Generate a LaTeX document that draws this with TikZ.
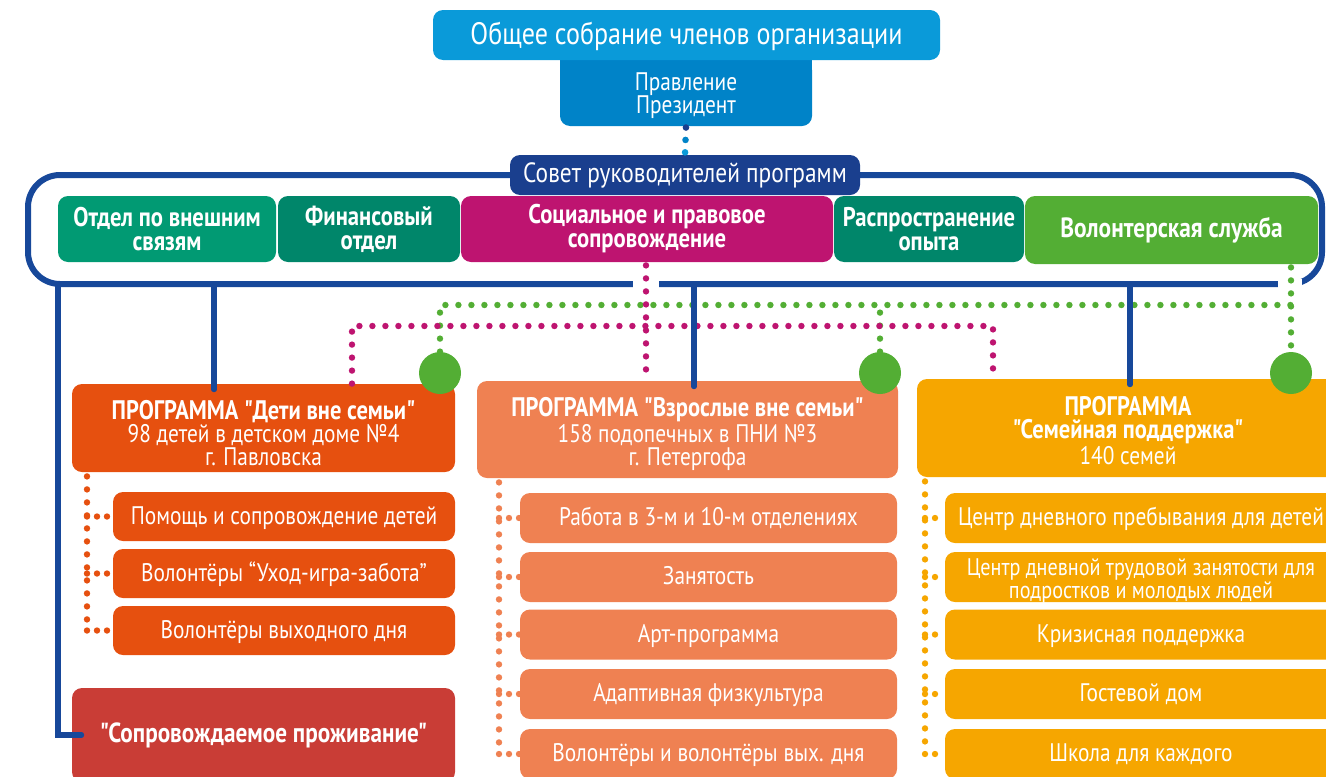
\documentclass[tikz,border=0pt]{standalone}
\usepackage{fontspec}
\setmainfont{PT Sans}[FakeStretch=0.84, Ligatures=TeXOff]
\usetikzlibrary{positioning, backgrounds}

\definecolor{cGen}{HTML}{0A9AD9}
\definecolor{cPrav}{HTML}{0083C8}
\definecolor{cSovet}{HTML}{1A3F8E}
\definecolor{cFrame}{HTML}{17489A}
\definecolor{cExt}{HTML}{019A73}
\definecolor{cFin}{HTML}{00866A}
\definecolor{cSoc}{HTML}{BE1470}
\definecolor{cVol}{HTML}{53AE34}
\definecolor{cP1}{HTML}{E6500F}
\definecolor{cP2}{HTML}{EF8152}
\definecolor{cP3}{HTML}{F6A600}
\definecolor{cHome}{HTML}{C93D36}

\begin{document}
\begin{tikzpicture}[x=0.5pt, y=-0.5pt,
  box/.style={rounded corners=5pt, inner sep=0pt, align=center, text=white},
  wh/.style 2 args={minimum width=#1*0.5pt, minimum height=#2*0.5pt},
  dept/.style={box, font=\bfseries\fontsize{13.5}{12}\selectfont},
  prog/.style={box, font=\fontsize{12.7}{11.5}\selectfont, text height=37.5pt, text depth=0pt},
  sub/.style={box, font=\fontsize{12.7}{11.5}\selectfont, text height=9.4pt, text depth=1.8pt},
  trunk/.style={draw=cFrame, line width=2.6pt, line cap=round},
  dots/.style={line width=3.2pt, line cap=round, dash pattern=on 0pt off 6.5pt},
  twig/.style={dots, dash pattern=on 0pt off 5pt},
  pdot/.style={circle, minimum size=3.3pt, inner sep=0pt},
  knob/.style={circle, fill=cVol, minimum size=21pt, inner sep=0pt}]
\useasboundingbox (0,0) rectangle (1326,776);

% council frame
\node[draw=cFrame, line width=3pt, rounded corners=16pt, wh={1294}{109}] (frame) at (675,229.5) {};
\node[box, fill=cSovet, font=\fontsize{13.9}{16}\selectfont, wh={350}{40}] (sovet) at (685,175) {Совет руководителей программ};
\node[dept, fill=cExt, wh={218}{66}] (ext) at (167,229) {Отдел по внешним\\связям};
\node[dept, fill=cFin, wh={182}{66}] (fin) at (369,229) {Финансовый\\отдел};
\node[dept, fill=cSoc, wh={372}{66}] (soc) at (647,229) {Социальное и правовое\\сопровождение};
\node[dept, fill=cFin, wh={190}{66}] (rasp) at (929,229) {Распространение\\опыта};
\node[dept, fill=cVol, font=\bfseries\fontsize{13.9}{12}\selectfont, wh={293}{68}] (vol) at (1171.5,230) {Волонтерская служба};

% top of the tree
\node[box, fill=cPrav, font=\fontsize{12.7}{11.5}\selectfont, text height=21.5pt, text depth=1pt, wh={252}{66}] (prav) at (686,93) {Правление\\Президент};
\begin{scope}[on background layer]
  \fill[cPrav] (prav.north west) rectangle ([yshift=-8pt]prav.north east);
\end{scope}
\node[box, fill=cGen, font=\fontsize{15.5}{18}\selectfont, text height=11pt, text depth=2pt, wh={507}{50}] (gen) at (686.5,35) {Общее собрание членов организации};
\path (prav.south) -- (sovet.north)
  node[pdot, fill=cSovet, pos=0.04] (pd1) {}
  node[pdot, fill=cPrav, pos=0.48] (pd2) {}
  node[pdot, fill=cGen, pos=0.92] (pd3) {};

% gaps in the frame
\fill[white] (633,279) rectangle (659,289);
\fill[white] (1278,279) rectangle (1302,289);

% programmes
\node[prog, fill=cP1, wh={383}{88}] (prog1) at (263.5,428) {\textbf{\fontsize{13.4}{11.5}\selectfont ПРОГРАММА "Дети вне семьи"}\\98 детей в детском доме №4\\г. Павловска};
\node[prog, fill=cP2, text height=35.5pt, wh={421}{97}] (prog2) at (687.5,429.5) {\textbf{\fontsize{13.4}{11.5}\selectfont ПРОГРАММА "Взрослые вне семьи"}\\158 подопечных в ПНИ №3\\г. Петергофа};
\node[prog, fill=cP3, text height=36pt, wh={422}{98}] (prog3) at (1128,428) {\textbf{\fontsize{13.4}{11.5}\selectfont ПРОГРАММА}\\\textbf{\fontsize{13.4}{11.5}\selectfont "Семейная поддержка"}\\140 семей};

% dotted links
\coordinate (gline) at (0,305);
\coordinate (mline) at (0,326);
\coordinate (m1) at (352,0);
\coordinate (m2) at (646,0);
\coordinate (m3) at (993,0);
\node[knob] (g1) at (440,373) {};
\node[knob] (g2) at (880,373) {};
\node[knob] (g3) at (1291,373) {};
\draw[dots, draw=cVol] (g1.north) -- (g1 |- gline) -- (g3 |- gline);
\draw[dots, draw=cVol] (g2.north) -- (g2 |- gline);
\draw[dots, draw=cVol] ([yshift=-1.5pt]vol.south -| g3) -- (g3.north);
\draw[dots, draw=cSoc] (prog1.north -| m1) -- (m1 |- mline) -- (m3 |- mline) -- (prog3.north -| m3);
\draw[dots, draw=cSoc] ([yshift=-1.5pt]soc.south -| m2) -- (prog2.north -| m2);

% lines from the council
\coordinate (d0) at (58,284);
\coordinate (d1) at (214,284);
\coordinate (d2) at (694,284);
\coordinate (d3) at (1130,284);
\draw[trunk] (d1) -- ([yshift=-3pt]d1 |- prog1.north);
\draw[trunk] (d2) -- ([yshift=-3pt]d2 |- prog2.north);
\draw[trunk] (d3) -- ([yshift=-3pt]d3 |- prog3.north);

% children
\node[sub, fill=cP1, wh={342}{49}] (a1) at (284,516.5) {Помощь и сопровождение детей};
\node[sub, fill=cP1, wh={342}{49}] (a2) at (284,573.5) {Волонтёры “Уход-игра-забота”};
\node[sub, fill=cP1, wh={342}{49}] (a3) at (284,630.5) {Волонтёры выходного дня};
\node[box, fill=cHome, font=\bfseries\fontsize{13.8}{12}\selectfont, wh={383}{94}] (home) at (263.5,735) {"Сопровождаемое проживание"};
\draw[trunk] (d0) |- ([xshift=5pt]home.west);

% adults
\node[sub, fill=cP2, wh={377}{50}] (b1) at (708.5,518) {Работа в 3-м и 10-м отделениях};
\node[sub, fill=cP2, wh={377}{50}] (b2) at (708.5,577) {Занятость};
\node[sub, fill=cP2, wh={377}{50}] (b3) at (708.5,634.5) {Арт-программа};
\node[sub, fill=cP2, wh={377}{50}] (b4) at (708.5,694) {Адаптивная физкультура};
\node[sub, fill=cP2, wh={377}{50}] (b5) at (708.5,754) {Волонтёры и волонтёры вых. дня};

% families
\node[sub, fill=cP3, wh={392}{50}] (c1) at (1141,518) {Центр дневного пребывания для детей};
\node[sub, fill=cP3, font=\fontsize{12}{11.5}\selectfont, text height=23pt, text depth=1.2pt, wh={392}{50}] (c2) at (1141,577) {Центр дневной трудовой занятости для\\подростков и молодых людей};
\node[sub, fill=cP3, wh={392}{50}] (c3) at (1141,634.5) {Кризисная поддержка};
\node[sub, fill=cP3, wh={392}{50}] (c4) at (1141,694) {Гостевой дом};
\node[sub, fill=cP3, wh={392}{50}] (c5) at (1141,754) {Школа для каждого};

% dotted sub-trees
\coordinate (t1) at (87,0);
\coordinate (t2) at (499,0);
\coordinate (t3) at (925,0);
\draw[dots, draw=cP1] ([yshift=-2pt]prog1.south -| t1) -- (t1 |- a3.west);
\foreach \s in {a1,a2,a3}
  \draw[twig, draw=cP1] (t1 |- \s.west) -- (\s.west);
\draw[dots, draw=cP2] ([yshift=-2pt]prog2.south -| t2) -- (t2 |- b5.west);
\foreach \s in {b1,b2,b3,b4,b5}
  \draw[twig, draw=cP2] (t2 |- \s.west) -- (\s.west);
\draw[dots, draw=cP3] ([yshift=-2pt]prog3.south -| t3) -- (t3 |- c5.west);
\foreach \s in {c1,c2,c3,c4,c5}
  \draw[twig, draw=cP3] (t3 |- \s.west) -- (\s.west);
\end{tikzpicture}
\end{document}
